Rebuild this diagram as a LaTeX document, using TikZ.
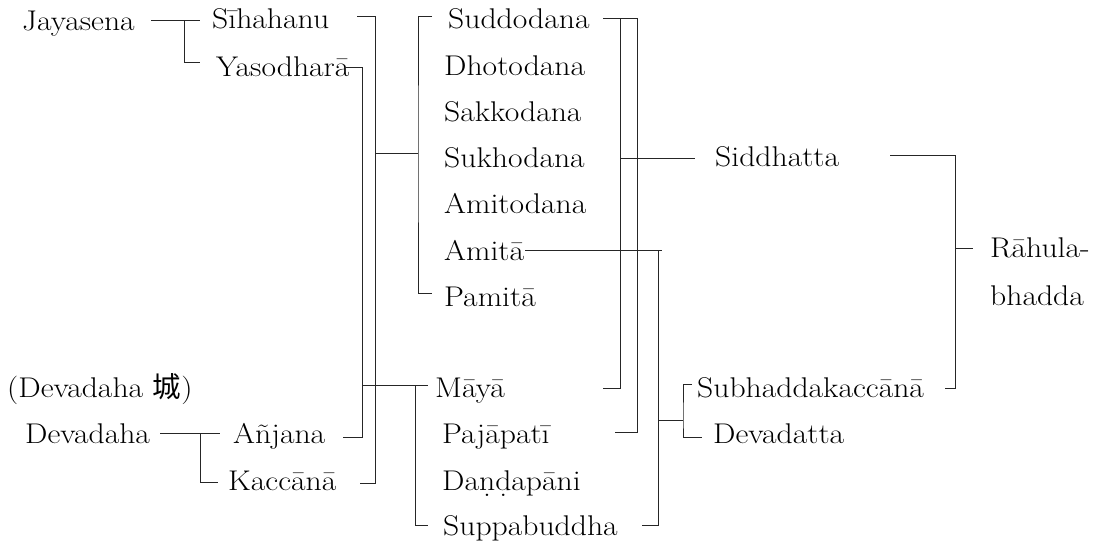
\documentclass[tikz,border=0pt]{standalone}
\usepackage{fontspec}
\setmainfont{Latin Modern Roman}[FakeStretch=1.11]
\newfontfamily\cjk{Noto Sans CJK SC}
\newcommand\udot[1]{\ooalign{#1\cr\hidewidth\raisebox{-0.5ex}{.}\hidewidth\cr}}
\begin{document}
\begin{tikzpicture}[x=1pt,y=-1pt,
  nm/.style={anchor=base west,inner sep=0pt,font=\fontsize{28.5}{32}\selectfont},
  ln/.style={line width=0.9pt,black!85}]
\useasboundingbox (0,0) rectangle (1093,542);
% names
\node[nm] (jay) at (22,30) {Jayasena};
\node[nm] (sih) at (212,28) {Sīhahanu};
\node[nm] (yas) at (216,76) {Yasodharā};
\node[nm] (sud) at (448,28) {Suddodana};
\node[nm] (dho) at (444,75) {Dhotodana};
\node[nm] (sak) at (444,121) {Sakkodana};
\node[nm] (suk) at (444,167) {Sukhodana};
\node[nm] (amd) at (444,213) {Amitodana};
\node[nm] (ami) at (444,260) {Amitā};
\node[nm] (pam) at (444,306) {Pamitā};
\node[nm] (sid) at (715,166) {Siddhatta};
\node[nm] (rah) at (990,257) {Rāhula-};
\node[nm] (bha) at (990,305) {bhadda};
\node[nm] (city) at (7,397) {(Devadaha {\cjk 城})};
\node[nm] (dev) at (25,443) {Devadaha};
\node[nm] (anj) at (233,443) {Añjana};
\node[nm] (kac) at (228,490) {Kaccānā};
\node[nm] (may) at (435,397) {Māyā};
\node[nm] (paj) at (442,443) {Pajāpatī};
\node[nm] (dan) at (442,490) {Da\udot{n}\udot{d}apāni};
\node[nm] (sup) at (443,535) {Suppabuddha};
\node[nm] (sub) at (697,397) {Subhaddakaccānā};
\node[nm] (dvt) at (713,443) {Devadatta};
% junction coordinates
\coordinate (jayR) at (151,20);  \coordinate (jayJ) at (184,20);
\coordinate (sihL) at (200,20);  \coordinate (yasL) at (200,62);
\coordinate (sihR) at (357,16);  \coordinate (sihB) at (375,16);
\coordinate (kacR) at (360,483);
\coordinate (yasR) at (345,67);  \coordinate (yasB) at (362,67);
\coordinate (anjR) at (343,437);
\coordinate (c1J) at (375,153);  \coordinate (c1B) at (418,153);
\coordinate (sudL) at (432,16);  \coordinate (pamL) at (432,293);
\coordinate (c2J) at (362,385);  \coordinate (mayL) at (428,385);
\coordinate (c2B) at (415,385);  \coordinate (supL) at (428,525);
\coordinate (sudR) at (603,18);  \coordinate (sudB1) at (620,18);
\coordinate (sudB2) at (637,18);
\coordinate (mayR) at (603,388); \coordinate (pajR) at (615,432);
\coordinate (sidJ) at (620,158); \coordinate (sidL) at (695,158);
\coordinate (amiR) at (525,250); \coordinate (amiE) at (662,250);
\coordinate (amiB) at (658,250); \coordinate (supR) at (642,525);
\coordinate (c3J) at (658,420);  \coordinate (c3B) at (683,420);
\coordinate (subL) at (692,384); \coordinate (dvtL) at (702,437);
\coordinate (sidR) at (890,155); \coordinate (sidB) at (955,155);
\coordinate (subR) at (945,388); \coordinate (rahL) at (973,248);
\coordinate (devR) at (160,433); \coordinate (devJ) at (200,433);
\coordinate (anjL) at (220,433); \coordinate (kacL) at (218,482);
% connectors
\draw[ln] (jayR) -- (sihL);
\draw[ln] (jayJ) |- (yasL);
\draw[ln] (sihR) -- (sihB) |- (kacR);
\draw[ln] (yasR) -- (yasB) |- (anjR);
\draw[ln] (c1J) -- (c1B);
\draw[ln] (sudL) -| (c1B) |- (pamL);
\draw[ln] (c2J) -- (mayL);
\draw[ln] (c2B) |- (supL);
\draw[ln] (sudR) -- (sudB2);
\draw[ln] (sudB1) |- (mayR);
\draw[ln] (sudB2) |- (pajR);
\draw[ln] (sidJ) -- (sidL);
\draw[ln] (amiR) -- (amiE);
\draw[ln] (amiB) |- (supR);
\draw[ln] (c3J) -- (c3B);
\draw[ln] (subL) -| (c3B) |- (dvtL);
\draw[ln] (sidR) -- (sidB) |- (subR);
\draw[ln] (sidB |- rahL) -- (rahL);
\draw[ln] (devR) -- (anjL);
\draw[ln] (devJ) |- (kacL);
\end{tikzpicture}
\end{document}
